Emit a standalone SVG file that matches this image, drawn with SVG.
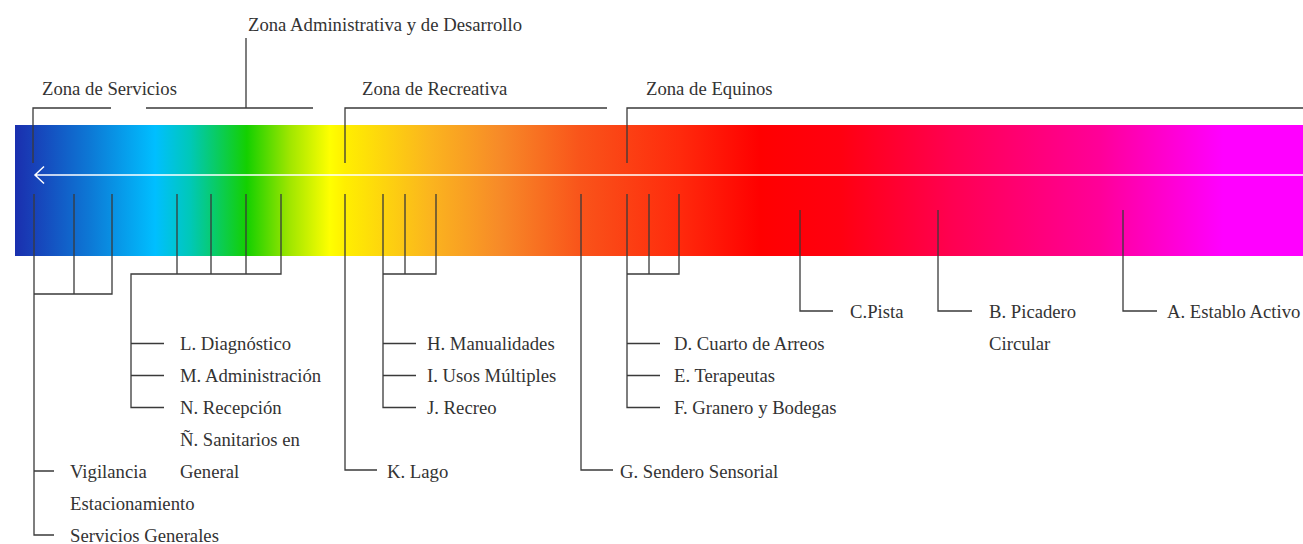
<svg xmlns="http://www.w3.org/2000/svg" width="1303" height="544" viewBox="0 0 1303 544">
<defs>
<linearGradient id="spectrum" gradientUnits="userSpaceOnUse" x1="15" y1="0" x2="1303" y2="0">
<stop offset="0" stop-color="#1a2fae"/>
<stop offset="0.014" stop-color="#1840b8"/>
<stop offset="0.058" stop-color="#0d78d5"/>
<stop offset="0.109" stop-color="#00bfff"/>
<stop offset="0.136" stop-color="#00c8b8"/>
<stop offset="0.18" stop-color="#14d000"/>
<stop offset="0.2135" stop-color="#a0e600"/>
<stop offset="0.2446" stop-color="#ffff00"/>
<stop offset="0.256" stop-color="#ffef00"/>
<stop offset="0.322" stop-color="#fbb51e"/>
<stop offset="0.3766" stop-color="#f78a28"/>
<stop offset="0.4387" stop-color="#f9541a"/>
<stop offset="0.516" stop-color="#ff2a0c"/>
<stop offset="0.578" stop-color="#ff0000"/>
<stop offset="0.6405" stop-color="#ff0010"/>
<stop offset="0.726" stop-color="#ff0050"/>
<stop offset="0.842" stop-color="#ff0098"/>
<stop offset="0.938" stop-color="#ff00ff"/>
<stop offset="1" stop-color="#ff00ff"/>
</linearGradient>
</defs>
<style>
text{font-family:"Liberation Serif","Times New Roman",serif;font-size:18.7px;fill:#333}
.ln{fill:none;stroke:#3a3a3a;stroke-width:1.3}
.arrow{fill:none;stroke:#ffffff;stroke-width:1.5}
</style>
<rect width="1303" height="544" fill="#ffffff"/>
<g id="spectrum-bar">
<rect x="15" y="125" width="1288" height="131" fill="url(#spectrum)"/>
<path class="arrow" d="M1303 175 H35 M44 166.5 L35 175 L44 183.5"/>
</g>
<g id="connectors">
<path class="ln" d="M33 163 V108 H111"/>
<path class="ln" d="M146 108 H313 M246 38 V108"/>
<path class="ln" d="M345 163 V108 H607"/>
<path class="ln" d="M627 163 V108 H1303"/>
<path class="ln" d="M34 194 V535 H54 M34 471 H54 M74 194 V294 M112 194 V294 H34"/>
<path class="ln" d="M177 194 V274 M211 194 V274 M246 194 V274 M281 194 V274 H131 V407.5 H164 M131 343.5 H164 M131 375.5 H164"/>
<path class="ln" d="M345 194 V470 H377"/>
<path class="ln" d="M405 194 V274 M436 194 V274 H383 M383 194 V407.5 H416 M383 343.5 H416 M383 375.5 H416"/>
<path class="ln" d="M581 194 V470 H613"/>
<path class="ln" d="M649 194 V274 M679 194 V274 H627 M627 194 V407.5 H660 M627 343.5 H660 M627 375.5 H660"/>
<path class="ln" d="M800 210 V311 H833"/>
<path class="ln" d="M938 210 V311 H972"/>
<path class="ln" d="M1123 210 V311 H1157"/>
</g>
<g font-family="Liberation Serif, Times New Roman, serif">
<g id="zona-servicios"><text x="42" y="95">Zona de Servicios</text></g>
<g id="zona-administrativa"><text x="248" y="31">Zona Administrativa y de Desarrollo</text></g>
<g id="zona-recreativa"><text x="362" y="95">Zona de Recreativa</text></g>
<g id="zona-equinos"><text x="646" y="95">Zona de Equinos</text></g>
<g id="vigilancia"><text x="70" y="478">Vigilancia</text></g>
<g id="estacionamiento"><text x="70" y="510">Estacionamiento</text></g>
<g id="servicios-generales"><text x="70" y="542">Servicios Generales</text></g>
<g id="l-diagnostico"><text x="180" y="350">L. Diagnóstico</text></g>
<g id="m-administracion"><text x="180" y="382">M. Administración</text></g>
<g id="n-recepcion"><text x="180" y="414">N. Recepción</text></g>
<g id="n-sanitarios"><text x="180" y="446">Ñ. Sanitarios en</text><text x="180" y="478">General</text></g>
<g id="k-lago"><text x="387" y="478">K. Lago</text></g>
<g id="h-manualidades"><text x="427" y="350">H. Manualidades</text></g>
<g id="i-usos-multiples"><text x="427" y="382">I. Usos Múltiples</text></g>
<g id="j-recreo"><text x="427" y="414">J. Recreo</text></g>
<g id="g-sendero"><text x="620" y="478">G. Sendero Sensorial</text></g>
<g id="d-cuarto"><text x="674" y="350">D. Cuarto de Arreos</text></g>
<g id="e-terapeutas"><text x="674" y="382">E. Terapeutas</text></g>
<g id="f-granero"><text x="674" y="414">F. Granero y Bodegas</text></g>
<g id="c-pista"><text x="850" y="318">C.Pista</text></g>
<g id="b-picadero"><text x="989" y="318">B. Picadero</text><text x="989" y="350">Circular</text></g>
<g id="a-establo"><text x="1167" y="318">A. Establo Activo</text></g>
</g>
</svg>
